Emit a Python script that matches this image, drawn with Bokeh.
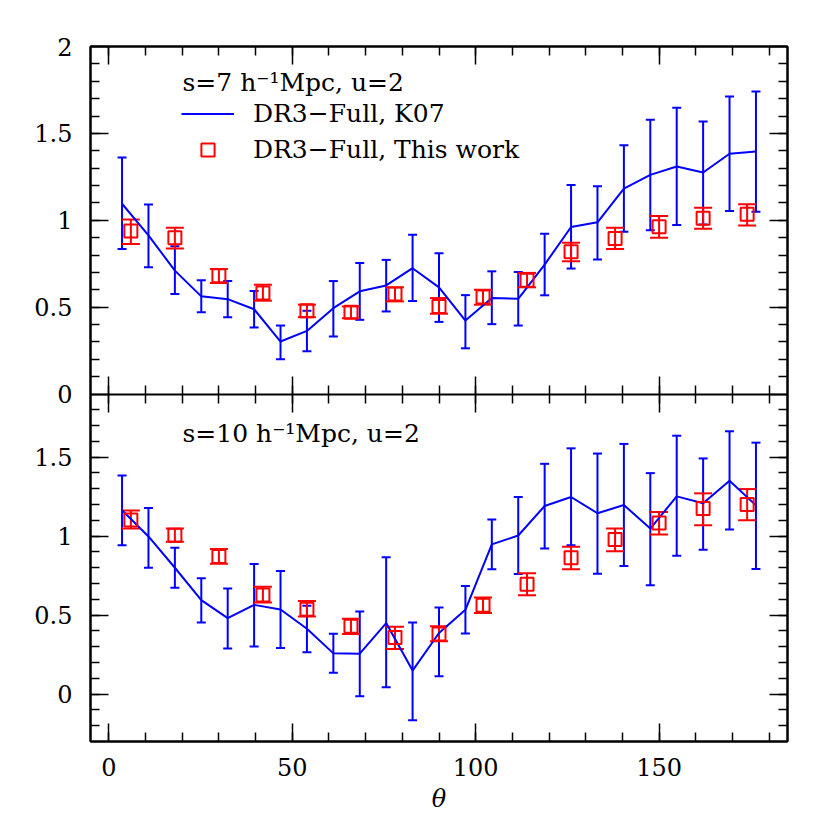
import numpy as np
from bokeh.plotting import figure
from bokeh.models import (Range1d, LinearAxis, FixedTicker, SingleIntervalTicker, Whisker, TeeHead,
                          ColumnDataSource, Label, Legend, LegendItem, CustomJSTickFormatter)
from bokeh.embed import file_html
from bokeh.resources import INLINE

# ---------------- data ----------------
theta_k07 = [3.6, 10.8, 18.0, 25.2, 32.4, 39.6, 46.8, 54.0, 61.2, 68.4, 75.6, 82.8, 90.0,
             97.2, 104.4, 111.6, 118.8, 126.0, 133.2, 140.4, 147.6, 154.8, 162.0, 169.2, 176.4]
theta_this = [6, 18, 30, 42, 54, 66, 78, 90, 102, 114, 126, 138, 150, 162, 174]

# top panel: s=7
top_k07 = [1.095, 0.913, 0.71, 0.562, 0.546, 0.488, 0.302, 0.363, 0.494, 0.591, 0.625, 0.724, 0.614,
           0.423, 0.552, 0.548, 0.745, 0.961, 0.988, 1.182, 1.261, 1.309, 1.275, 1.383, 1.396]
top_k07_hi = [1.361, 1.09, 0.851, 0.654, 0.65, 0.593, 0.394, 0.479, 0.65, 0.754, 0.772, 0.916, 0.81,
              0.569, 0.706, 0.702, 0.922, 1.203, 1.196, 1.431, 1.579, 1.647, 1.569, 1.712, 1.741]
top_k07_lo = [0.835, 0.73, 0.575, 0.471, 0.442, 0.383, 0.2, 0.246, 0.331, 0.427, 0.475, 0.535, 0.415,
              0.263, 0.402, 0.394, 0.568, 0.722, 0.774, 0.934, 0.942, 0.972, 0.976, 1.053, 1.049]
top_this = [0.938, 0.899, 0.681, 0.581, 0.479, 0.471, 0.575, 0.504, 0.558, 0.654, 0.818, 0.895, 0.962, 1.011, 1.034]
top_this_hi = [1.005, 0.957, 0.72, 0.629, 0.514, 0.504, 0.614, 0.552, 0.6, 0.697, 0.87, 0.957, 1.024, 1.072, 1.092]
top_this_lo = [0.864, 0.838, 0.639, 0.537, 0.442, 0.436, 0.533, 0.462, 0.514, 0.614, 0.764, 0.835, 0.899, 0.951, 0.97]

# bottom panel: s=10
bot_k07 = [1.164, 0.998, 0.8, 0.595, 0.481, 0.565, 0.536, 0.414, 0.258, 0.256, 0.45, 0.149, 0.387,
           0.534, 0.948, 1.004, 1.191, 1.248, 1.145, 1.197, 1.048, 1.252, 1.208, 1.351, 1.195]
bot_k07_hi = [1.384, 1.178, 0.926, 0.733, 0.668, 0.824, 0.779, 0.559, 0.382, 0.523, 0.866, 0.454, 0.548,
              0.685, 1.105, 1.248, 1.458, 1.556, 1.523, 1.584, 1.399, 1.636, 1.492, 1.664, 1.592]
bot_k07_lo = [0.943, 0.8, 0.674, 0.454, 0.288, 0.302, 0.292, 0.265, 0.135, -0.014, 0.044, -0.166, 0.113,
              0.384, 0.79, 0.76, 0.922, 0.943, 0.762, 0.811, 0.689, 0.876, 0.914, 1.042, 0.792]
bot_this = [1.103, 1.006, 0.872, 0.628, 0.538, 0.429, 0.359, 0.381, 0.563, 0.696, 0.863, 0.979, 1.084, 1.175, 1.2]
bot_this_hi = [1.162, 1.049, 0.918, 0.679, 0.59, 0.477, 0.427, 0.429, 0.611, 0.765, 0.933, 1.049, 1.153, 1.271, 1.298]
bot_this_lo = [1.049, 0.964, 0.826, 0.58, 0.492, 0.381, 0.286, 0.334, 0.513, 0.626, 0.79, 0.905, 1.011, 1.069, 1.101]

x_major_ticks = [0, 50, 100, 150]
top_major_ticks = [0, 0.5, 1, 1.5, 2]
bot_major_ticks = [0, 0.5, 1, 1.5]

top_label = "s=7 h\u207b\u00b9Mpc, u=2"
bot_label = "s=10 h\u207b\u00b9Mpc, u=2"
k07_label = "DR3\u2212Full, K07"
this_label = "DR3\u2212Full, This work"

# ---------------- style ----------------
FONT = "DejaVu Serif"
BLUE = "#0000ff"
RED = "#ff0000"
X_LO, X_HI = -5, 185
TOP_LO, TOP_HI = 0.0, 2.0
BOT_LO, BOT_HI = -0.3, 1.9
SPAN_T = TOP_HI - TOP_LO

p = figure(frame_width=697, frame_height=695,
           min_border_left=90, min_border_top=46, min_border_right=12, min_border_bottom=70,
           output_backend="svg", toolbar_location=None,
           x_range=Range1d(X_LO, X_HI), y_range=Range1d(TOP_LO - SPAN_T, TOP_HI),
           x_axis_type=None, y_axis_type=None)
p.extra_y_ranges = {"bot": Range1d(BOT_LO, BOT_HI + (BOT_HI - BOT_LO))}
p.outline_line_color = "black"
p.outline_line_width = 2
p.background_fill_color = "white"
p.border_fill_color = "white"


def bot_to_t(v):
    return TOP_LO - SPAN_T + (v - BOT_LO) / (BOT_HI - BOT_LO) * SPAN_T


top_minor = [round(v, 1) for v in np.arange(0.1, 2.0, 0.1)]
bot_minor = [round(v, 1) for v in np.arange(-0.2, 1.85, 0.1)]
y_major = list(top_major_ticks) + [bot_to_t(v) for v in bot_major_ticks]
y_minor = top_minor + [bot_to_t(v) for v in bot_minor]
yt = FixedTicker(ticks=y_major, minor_ticks=y_minor)
fmt = CustomJSTickFormatter(args=dict(blo=BOT_LO, bhi=BOT_HI, span=SPAN_T, tlo=TOP_LO), code="""
let v = tick;
if (tick < tlo - 1e-9) { v = blo + (tick - (tlo - span)) / span * (bhi - blo); }
v = Math.round(v * 10) / 10;
if (Math.abs(v) < 1e-9) v = 0;
return v.toString();
""")
xt = SingleIntervalTicker(interval=50, num_minor_ticks=5)


def style_axis(ax, labels=True):
    ax.axis_line_color = "black"
    ax.axis_line_width = 2
    ax.major_tick_line_color = "black"
    ax.minor_tick_line_color = "black"
    ax.major_tick_line_width = 1.5
    ax.minor_tick_line_width = 1.5
    ax.major_tick_in = 18
    ax.major_tick_out = 0
    ax.minor_tick_in = 9
    ax.minor_tick_out = 0
    ax.major_label_text_font = FONT
    if labels:
        ax.major_label_text_color = "black"
        ax.major_label_text_font_size = "24px"
    else:
        ax.major_label_text_color = None
        ax.major_label_text_font_size = "1px"
        ax.major_label_standoff = 0


left = LinearAxis(ticker=yt, formatter=fmt)
style_axis(left)
left.major_label_standoff = 18
p.add_layout(left, "left")

right = LinearAxis(ticker=yt, formatter=fmt)
style_axis(right, labels=False)
p.add_layout(right, "right")

below = LinearAxis(ticker=xt, axis_label="\u03b8")
style_axis(below)
below.major_label_standoff = 16
below.axis_label_text_font = FONT
below.axis_label_text_font_size = "24px"
below.axis_label_text_font_style = "italic"
below.axis_label_text_color = "black"
below.axis_label_standoff = 6
p.add_layout(below, "below")

above = LinearAxis(ticker=xt)
style_axis(above, labels=False)
p.add_layout(above, "above")

middle = LinearAxis(ticker=xt, fixed_location=(TOP_LO))
style_axis(middle, labels=False)
middle.major_tick_out = 18
middle.minor_tick_out = 9
p.add_layout(middle, "above")

# ---------------- glyphs ----------------
def panel(theta_a, ya, ya_lo, ya_hi, theta_b, yb, yb_lo, yb_hi, rng):
    kw = {} if rng is None else {"y_range_name": rng}
    src_a = ColumnDataSource(dict(x=theta_a, y=ya, lo=ya_lo, hi=ya_hi))
    src_b = ColumnDataSource(dict(x=theta_b, y=yb, lo=yb_lo, hi=yb_hi))
    ln = p.line("x", "y", source=src_a, line_color=BLUE, line_width=2, **kw)
    wa = Whisker(source=src_a, base="x", lower="lo", upper="hi", dimension="height",
                 line_color=BLUE, line_width=2,
                 upper_head=TeeHead(size=9, line_color=BLUE, line_width=2),
                 lower_head=TeeHead(size=9, line_color=BLUE, line_width=2), **kw)
    p.add_layout(wa)
    sq = p.scatter("x", "y", source=src_b, marker="square", size=13, fill_color=None,
                   line_color=RED, line_width=2, **kw)
    wb = Whisker(source=src_b, base="x", lower="lo", upper="hi", dimension="height",
                 line_color=RED, line_width=2,
                 upper_head=TeeHead(size=18, line_color=RED, line_width=2),
                 lower_head=TeeHead(size=18, line_color=RED, line_width=2), **kw)
    p.add_layout(wb)
    return ln, sq


ln_top, sq_top = panel(theta_k07, top_k07, top_k07_lo, top_k07_hi,
                       theta_this, top_this, top_this_lo, top_this_hi, None)
panel(theta_k07, bot_k07, bot_k07_lo, bot_k07_hi,
      theta_this, bot_this, bot_this_lo, bot_this_hi, "bot")

# ---------------- texts ----------------
p.add_layout(Label(x=92, y=1.793, x_units="screen", text=top_label, text_font=FONT,
                   text_font_size="25px", text_color="black", text_baseline="alphabetic"))
p.add_layout(Label(x=92, y=1.652, x_units="screen", y_range_name="bot", text=bot_label,
                   text_font=FONT, text_font_size="25px", text_color="black",
                   text_baseline="alphabetic"))
for yv, rng in ((1.0, "default"), (0.8, "bot")):
    p.add_layout(Label(x=-69, y=yv, x_units="screen", y_range_name=rng, text="Q(\u03b8)",
                       angle=np.pi / 2, text_font=FONT, text_font_size="24px",
                       text_color="black", text_align="center", text_baseline="middle"))

legend = Legend(items=[LegendItem(label=k07_label, renderers=[ln_top]),
                       LegendItem(label=this_label, renderers=[sq_top])],
                location=(91, 575), border_line_color=None, background_fill_alpha=0,
                label_text_font=FONT, label_text_font_size="25px", label_text_color="black",
                glyph_width=53, glyph_height=33, label_height=24, label_standoff=19,
                spacing=3, padding=0, margin=0)
p.add_layout(legend)

open("out.html", "w").write(file_html(p, INLINE))
